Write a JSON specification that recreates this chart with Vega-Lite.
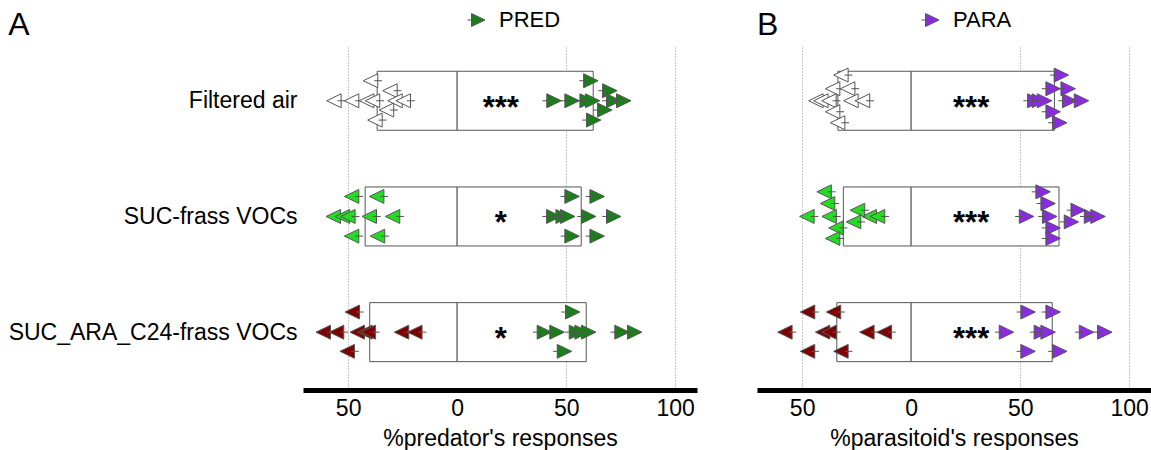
{
  "$schema": "https://vega.github.io/schema/vega-lite/v6.json",
  "padding": {"left": 8, "right": 0, "top": 9, "bottom": 0},
  "config": {
    "font": "Liberation Sans",
    "view": {"stroke": null},
    "axis": {"labelColor": "black", "titleColor": "black", "labelFont": "Liberation Sans", "titleFont": "Liberation Sans", "titleFontWeight": "normal"},
    "legend": {"labelFont": "Liberation Sans"}
  },
  "datasets": {
    "boxes": [
      {"panel": "A", "y": 0, "v": -36.7, "v2": 0}, {"panel": "A", "y": 0, "v": 0, "v2": 62.4},
      {"panel": "A", "y": 1, "v": -42.2, "v2": 0}, {"panel": "A", "y": 1, "v": 0, "v2": 56.9},
      {"panel": "A", "y": 2, "v": -40.1, "v2": 0}, {"panel": "A", "y": 2, "v": 0, "v2": 59.2},
      {"panel": "B", "y": 0, "v": -33.6, "v2": 0}, {"panel": "B", "y": 0, "v": 0, "v2": 65.7},
      {"panel": "B", "y": 1, "v": -31.1, "v2": 0}, {"panel": "B", "y": 1, "v": 0, "v2": 67.8},
      {"panel": "B", "y": 2, "v": -34.1, "v2": 0}, {"panel": "B", "y": 2, "v": 0, "v2": 64.7}
    ],
    "stars": [
      {"panel": "A", "y": 0, "v": 20, "label": "***"},
      {"panel": "A", "y": 1, "v": 20, "label": "*"},
      {"panel": "A", "y": 2, "v": 20, "label": "*"},
      {"panel": "B", "y": 0, "v": 27.5, "label": "***"},
      {"panel": "B", "y": 1, "v": 27.5, "label": "***"},
      {"panel": "B", "y": 2, "v": 27.5, "label": "***"}
    ],
    "pts": [
      {"panel": "A", "side": "L", "grp": "ctrl", "v": -39.6, "y": -0.173},
      {"panel": "A", "side": "L", "grp": "ctrl", "v": -30.7, "y": -0.087},
      {"panel": "A", "side": "L", "grp": "ctrl", "v": -56.4, "y": 0},
      {"panel": "A", "side": "L", "grp": "ctrl", "v": -48.3, "y": 0},
      {"panel": "A", "side": "L", "grp": "ctrl", "v": -41.4, "y": 0},
      {"panel": "A", "side": "L", "grp": "ctrl", "v": -38.7, "y": 0},
      {"panel": "A", "side": "L", "grp": "ctrl", "v": -28.4, "y": 0},
      {"panel": "A", "side": "L", "grp": "ctrl", "v": -24.6, "y": 0},
      {"panel": "A", "side": "L", "grp": "ctrl", "v": -32.3, "y": 0.08},
      {"panel": "A", "side": "L", "grp": "ctrl", "v": -37.6, "y": 0.167},
      {"panel": "A", "side": "R", "grp": "PRED", "v": 61.2, "y": -0.173},
      {"panel": "A", "side": "R", "grp": "PRED", "v": 69.9, "y": -0.087},
      {"panel": "A", "side": "R", "grp": "PRED", "v": 44.3, "y": 0},
      {"panel": "A", "side": "R", "grp": "PRED", "v": 52.6, "y": 0},
      {"panel": "A", "side": "R", "grp": "PRED", "v": 59.5, "y": 0},
      {"panel": "A", "side": "R", "grp": "PRED", "v": 62.0, "y": 0},
      {"panel": "A", "side": "R", "grp": "PRED", "v": 71.7, "y": 0},
      {"panel": "A", "side": "R", "grp": "PRED", "v": 76.3, "y": 0},
      {"panel": "A", "side": "R", "grp": "PRED", "v": 67.6, "y": 0.08},
      {"panel": "A", "side": "R", "grp": "PRED", "v": 62.5, "y": 0.167},

      {"panel": "A", "side": "L", "grp": "SUC", "v": -48.3, "y": 0.827},
      {"panel": "A", "side": "L", "grp": "SUC", "v": -36.8, "y": 0.827},
      {"panel": "A", "side": "L", "grp": "SUC", "v": -56.7, "y": 1},
      {"panel": "A", "side": "L", "grp": "SUC", "v": -52.5, "y": 1},
      {"panel": "A", "side": "L", "grp": "SUC", "v": -50.0, "y": 1},
      {"panel": "A", "side": "L", "grp": "SUC", "v": -40.2, "y": 1},
      {"panel": "A", "side": "L", "grp": "SUC", "v": -29.5, "y": 1},
      {"panel": "A", "side": "L", "grp": "SUC", "v": -48.3, "y": 1.17},
      {"panel": "A", "side": "L", "grp": "SUC", "v": -36.4, "y": 1.17},
      {"panel": "A", "side": "R", "grp": "PRED", "v": 52.6, "y": 0.827},
      {"panel": "A", "side": "R", "grp": "PRED", "v": 64.1, "y": 0.827},
      {"panel": "A", "side": "R", "grp": "PRED", "v": 44.2, "y": 1},
      {"panel": "A", "side": "R", "grp": "PRED", "v": 48.5, "y": 1},
      {"panel": "A", "side": "R", "grp": "PRED", "v": 50.6, "y": 1},
      {"panel": "A", "side": "R", "grp": "PRED", "v": 60.2, "y": 1},
      {"panel": "A", "side": "R", "grp": "PRED", "v": 71.7, "y": 1},
      {"panel": "A", "side": "R", "grp": "PRED", "v": 52.6, "y": 1.17},
      {"panel": "A", "side": "R", "grp": "PRED", "v": 64.1, "y": 1.17},

      {"panel": "A", "side": "L", "grp": "SUCARA", "v": -48.0, "y": 1.826},
      {"panel": "A", "side": "L", "grp": "SUCARA", "v": -61.3, "y": 2},
      {"panel": "A", "side": "L", "grp": "SUCARA", "v": -55.2, "y": 2},
      {"panel": "A", "side": "L", "grp": "SUCARA", "v": -45.7, "y": 2},
      {"panel": "A", "side": "L", "grp": "SUCARA", "v": -42.2, "y": 2},
      {"panel": "A", "side": "L", "grp": "SUCARA", "v": -40.7, "y": 2},
      {"panel": "A", "side": "L", "grp": "SUCARA", "v": -25.4, "y": 2},
      {"panel": "A", "side": "L", "grp": "SUCARA", "v": -19.3, "y": 2},
      {"panel": "A", "side": "L", "grp": "SUCARA", "v": -50.3, "y": 2.166},
      {"panel": "A", "side": "R", "grp": "PRED", "v": 52.9, "y": 1.826},
      {"panel": "A", "side": "R", "grp": "PRED", "v": 39.9, "y": 2},
      {"panel": "A", "side": "R", "grp": "PRED", "v": 45.7, "y": 2},
      {"panel": "A", "side": "R", "grp": "PRED", "v": 54.6, "y": 2},
      {"panel": "A", "side": "R", "grp": "PRED", "v": 57.2, "y": 2},
      {"panel": "A", "side": "R", "grp": "PRED", "v": 60.2, "y": 2},
      {"panel": "A", "side": "R", "grp": "PRED", "v": 75.5, "y": 2},
      {"panel": "A", "side": "R", "grp": "PRED", "v": 81.3, "y": 2},
      {"panel": "A", "side": "R", "grp": "PRED", "v": 49.1, "y": 2.166},

      {"panel": "B", "side": "L", "grp": "ctrl", "v": -32.1, "y": -0.222},
      {"panel": "B", "side": "L", "grp": "ctrl", "v": -35.9, "y": -0.104},
      {"panel": "B", "side": "L", "grp": "ctrl", "v": -29.0, "y": -0.104},
      {"panel": "B", "side": "L", "grp": "ctrl", "v": -43.6, "y": 0},
      {"panel": "B", "side": "L", "grp": "ctrl", "v": -41.3, "y": 0},
      {"panel": "B", "side": "L", "grp": "ctrl", "v": -37.6, "y": 0},
      {"panel": "B", "side": "L", "grp": "ctrl", "v": -27.5, "y": 0},
      {"panel": "B", "side": "L", "grp": "ctrl", "v": -22.2, "y": 0},
      {"panel": "B", "side": "L", "grp": "ctrl", "v": -35.9, "y": 0.095},
      {"panel": "B", "side": "L", "grp": "ctrl", "v": -33.6, "y": 0.19},
      {"panel": "B", "side": "R", "grp": "PARA", "v": 68.8, "y": -0.222},
      {"panel": "B", "side": "R", "grp": "PARA", "v": 65.0, "y": -0.104},
      {"panel": "B", "side": "R", "grp": "PARA", "v": 71.9, "y": -0.104},
      {"panel": "B", "side": "R", "grp": "PARA", "v": 56.6, "y": 0},
      {"panel": "B", "side": "R", "grp": "PARA", "v": 58.7, "y": 0},
      {"panel": "B", "side": "R", "grp": "PARA", "v": 61.1, "y": 0},
      {"panel": "B", "side": "R", "grp": "PARA", "v": 72.6, "y": 0},
      {"panel": "B", "side": "R", "grp": "PARA", "v": 78.0, "y": 0},
      {"panel": "B", "side": "R", "grp": "PARA", "v": 65.0, "y": 0.095},
      {"panel": "B", "side": "R", "grp": "PARA", "v": 68.0, "y": 0.19},

      {"panel": "B", "side": "L", "grp": "SUC", "v": -39.8, "y": 0.787},
      {"panel": "B", "side": "L", "grp": "SUC", "v": -38.2, "y": 0.888},
      {"panel": "B", "side": "L", "grp": "SUC", "v": -47.7, "y": 1},
      {"panel": "B", "side": "L", "grp": "SUC", "v": -37.5, "y": 1},
      {"panel": "B", "side": "L", "grp": "SUC", "v": -19.1, "y": 1},
      {"panel": "B", "side": "L", "grp": "SUC", "v": -15.3, "y": 1},
      {"panel": "B", "side": "L", "grp": "SUC", "v": -24.5, "y": 0.946},
      {"panel": "B", "side": "L", "grp": "SUC", "v": -26.3, "y": 1.047},
      {"panel": "B", "side": "L", "grp": "SUC", "v": -34.4, "y": 1.099},
      {"panel": "B", "side": "L", "grp": "SUC", "v": -35.9, "y": 1.19},
      {"panel": "B", "side": "R", "grp": "PARA", "v": 60.4, "y": 0.787},
      {"panel": "B", "side": "R", "grp": "PARA", "v": 62.7, "y": 0.888},
      {"panel": "B", "side": "R", "grp": "PARA", "v": 52.8, "y": 1},
      {"panel": "B", "side": "R", "grp": "PARA", "v": 63.4, "y": 1},
      {"panel": "B", "side": "R", "grp": "PARA", "v": 82.6, "y": 1},
      {"panel": "B", "side": "R", "grp": "PARA", "v": 85.6, "y": 1},
      {"panel": "B", "side": "R", "grp": "PARA", "v": 76.5, "y": 0.946},
      {"panel": "B", "side": "R", "grp": "PARA", "v": 73.4, "y": 1.047},
      {"panel": "B", "side": "R", "grp": "PARA", "v": 65.0, "y": 1.099},
      {"panel": "B", "side": "R", "grp": "PARA", "v": 65.0, "y": 1.19},

      {"panel": "B", "side": "L", "grp": "SUCARA", "v": -47.4, "y": 1.826},
      {"panel": "B", "side": "L", "grp": "SUCARA", "v": -35.5, "y": 1.826},
      {"panel": "B", "side": "L", "grp": "SUCARA", "v": -57.8, "y": 2},
      {"panel": "B", "side": "L", "grp": "SUCARA", "v": -40.5, "y": 2},
      {"panel": "B", "side": "L", "grp": "SUCARA", "v": -37.5, "y": 2},
      {"panel": "B", "side": "L", "grp": "SUCARA", "v": -20.2, "y": 2},
      {"panel": "B", "side": "L", "grp": "SUCARA", "v": -12.2, "y": 2},
      {"panel": "B", "side": "L", "grp": "SUCARA", "v": -47.4, "y": 2.166},
      {"panel": "B", "side": "L", "grp": "SUCARA", "v": -32.1, "y": 2.166},
      {"panel": "B", "side": "R", "grp": "PARA", "v": 53.5, "y": 1.826},
      {"panel": "B", "side": "R", "grp": "PARA", "v": 65.0, "y": 1.826},
      {"panel": "B", "side": "R", "grp": "PARA", "v": 43.6, "y": 2},
      {"panel": "B", "side": "R", "grp": "PARA", "v": 59.6, "y": 2},
      {"panel": "B", "side": "R", "grp": "PARA", "v": 62.7, "y": 2},
      {"panel": "B", "side": "R", "grp": "PARA", "v": 80.3, "y": 2},
      {"panel": "B", "side": "R", "grp": "PARA", "v": 88.7, "y": 2},
      {"panel": "B", "side": "R", "grp": "PARA", "v": 53.5, "y": 2.166},
      {"panel": "B", "side": "R", "grp": "PARA", "v": 68.0, "y": 2.166}
    ]
  },
  "spacing": 60,
  "resolve": {"scale": {"fill": "independent", "shape": "independent"}, "legend": {"fill": "independent"}},
  "hconcat": [
    {
      "width": 394, "height": 345,
      "title": {"text": "A", "anchor": "start", "fontSize": 32, "fontWeight": "normal", "baseline": "alphabetic", "offset": 10, "dy": 68, "color": "black", "font": "Liberation Sans"},
      "layer": [
        {
          "data": {"name": "boxes"}, "transform": [{"filter": "datum.panel === 'A'"}],
          "mark": {"type": "bar", "orient": "horizontal", "height": 59, "fill": "white", "stroke": "#555555", "strokeWidth": 1},
          "encoding": {
            "x": {"field": "v", "type": "quantitative", "scale": {"domain": [-70.7, 110], "nice": false, "zero": false, "padding": 0},
              "axis": {"values": [-50, 0, 50, 100], "labelExpr": "'' + abs(datum.value)", "title": "%predator's responses", "titleFontSize": 23, "labelFontSize": 23, "labelFlush": false, "domainColor": "black", "domainWidth": 5, "ticks": false, "labelPadding": 7, "titlePadding": 7, "grid": true, "gridColor": "#909090", "gridDash": [1, 2], "gridWidth": 1, "gridOpacity": {"condition": {"test": "datum.value === 0", "value": 0}, "value": 1}}},
            "x2": {"field": "v2"},
            "y": {"field": "y", "type": "quantitative", "scale": {"domain": [-0.482, 2.5], "reverse": true, "nice": false, "zero": false, "padding": 0},
              "axis": {"values": [0, 1, 2], "labelExpr": "datum.value == 0 ? 'Filtered air' : datum.value == 1 ? 'SUC-frass VOCs' : 'SUC_ARA_C24-frass VOCs'", "title": null, "domain": false, "ticks": false, "grid": false, "labelFontSize": 23, "labelPadding": 6, "labelLimit": 0}}
          }
        },
        {
          "data": {"name": "stars"}, "transform": [{"filter": "datum.panel === 'A'"}],
          "mark": {"type": "text", "fontSize": 31, "fontWeight": "bold", "align": "center", "baseline": "alphabetic", "dy": 17, "color": "black"},
          "encoding": {
            "x": {"field": "v", "type": "quantitative"},
            "y": {"field": "y", "type": "quantitative"},
            "text": {"field": "label"}
          }
        },
        {
          "data": {"name": "pts"}, "transform": [{"filter": "datum.panel === 'A'"}],
          "mark": {"type": "point", "filled": true, "size": 225, "stroke": "#555555", "strokeWidth": 1, "opacity": 1},
          "encoding": {
            "x": {"field": "v", "type": "quantitative"},
            "y": {"field": "y", "type": "quantitative"},
            "fill": {"field": "grp", "type": "nominal",
              "scale": {"domain": ["ctrl", "SUC", "SUCARA", "PRED", "PARA"], "range": ["#ffffff", "#22dd22", "#800000", "#1a7f1a", "#8a2be2"]},
              "legend": {"values": ["PRED"], "title": null, "orient": "none", "legendX": 164, "legendY": -36, "symbolType": "M-0.93,-0.93L1,0L-0.93,0.93ZM-1.5,0L-0.45,0", "symbolSize": 196, "symbolStrokeColor": "#555555", "symbolStrokeWidth": 1, "labelFontSize": 22, "labelColor": "black", "labelOffset": 10, "padding": 0}},
            "shape": {"field": "side", "type": "nominal",
              "scale": {"domain": ["L", "R"], "range": ["M0.93,-0.93L-1,0L0.93,0.93ZM1.5,0L0.45,0", "M-0.93,-0.93L1,0L-0.93,0.93ZM-1.5,0L-0.45,0"]},
              "legend": null}
          }
        }
      ]
    },
    {
      "width": 394, "height": 345,
      "title": {"text": "B", "anchor": "start", "fontSize": 32, "fontWeight": "normal", "baseline": "alphabetic", "offset": 10, "dy": 68, "color": "black", "font": "Liberation Sans"},
      "layer": [
        {
          "data": {"name": "boxes"}, "transform": [{"filter": "datum.panel === 'B'"}],
          "mark": {"type": "bar", "orient": "horizontal", "height": 59, "fill": "white", "stroke": "#555555", "strokeWidth": 1},
          "encoding": {
            "x": {"field": "v", "type": "quantitative", "scale": {"domain": [-70.7, 110], "nice": false, "zero": false, "padding": 0},
              "axis": {"values": [-50, 0, 50, 100], "labelExpr": "'' + abs(datum.value)", "title": "%parasitoid's responses", "titleFontSize": 23, "labelFontSize": 23, "labelFlush": false, "domainColor": "black", "domainWidth": 5, "ticks": false, "labelPadding": 7, "titlePadding": 7, "grid": true, "gridColor": "#909090", "gridDash": [1, 2], "gridWidth": 1, "gridOpacity": {"condition": {"test": "datum.value === 0", "value": 0}, "value": 1}}},
            "x2": {"field": "v2"},
            "y": {"field": "y", "type": "quantitative", "scale": {"domain": [-0.482, 2.5], "reverse": true, "nice": false, "zero": false, "padding": 0}, "axis": null}
          }
        },
        {
          "data": {"name": "stars"}, "transform": [{"filter": "datum.panel === 'B'"}],
          "mark": {"type": "text", "fontSize": 31, "fontWeight": "bold", "align": "center", "baseline": "alphabetic", "dy": 17, "color": "black"},
          "encoding": {
            "x": {"field": "v", "type": "quantitative"},
            "y": {"field": "y", "type": "quantitative"},
            "text": {"field": "label"}
          }
        },
        {
          "data": {"name": "pts"}, "transform": [{"filter": "datum.panel === 'B'"}],
          "mark": {"type": "point", "filled": true, "size": 225, "stroke": "#555555", "strokeWidth": 1, "opacity": 1},
          "encoding": {
            "x": {"field": "v", "type": "quantitative"},
            "y": {"field": "y", "type": "quantitative"},
            "fill": {"field": "grp", "type": "nominal",
              "scale": {"domain": ["ctrl", "SUC", "SUCARA", "PRED", "PARA"], "range": ["#ffffff", "#22dd22", "#800000", "#1a7f1a", "#8a2be2"]},
              "legend": {"values": ["PARA"], "title": null, "orient": "none", "legendX": 164, "legendY": -36, "symbolType": "M-0.93,-0.93L1,0L-0.93,0.93ZM-1.5,0L-0.45,0", "symbolSize": 196, "symbolStrokeColor": "#555555", "symbolStrokeWidth": 1, "labelFontSize": 22, "labelColor": "black", "labelOffset": 10, "padding": 0}},
            "shape": {"field": "side", "type": "nominal",
              "scale": {"domain": ["L", "R"], "range": ["M0.93,-0.93L-1,0L0.93,0.93ZM1.5,0L0.45,0", "M-0.93,-0.93L1,0L-0.93,0.93ZM-1.5,0L-0.45,0"]},
              "legend": null}
          }
        }
      ]
    }
  ]
}
